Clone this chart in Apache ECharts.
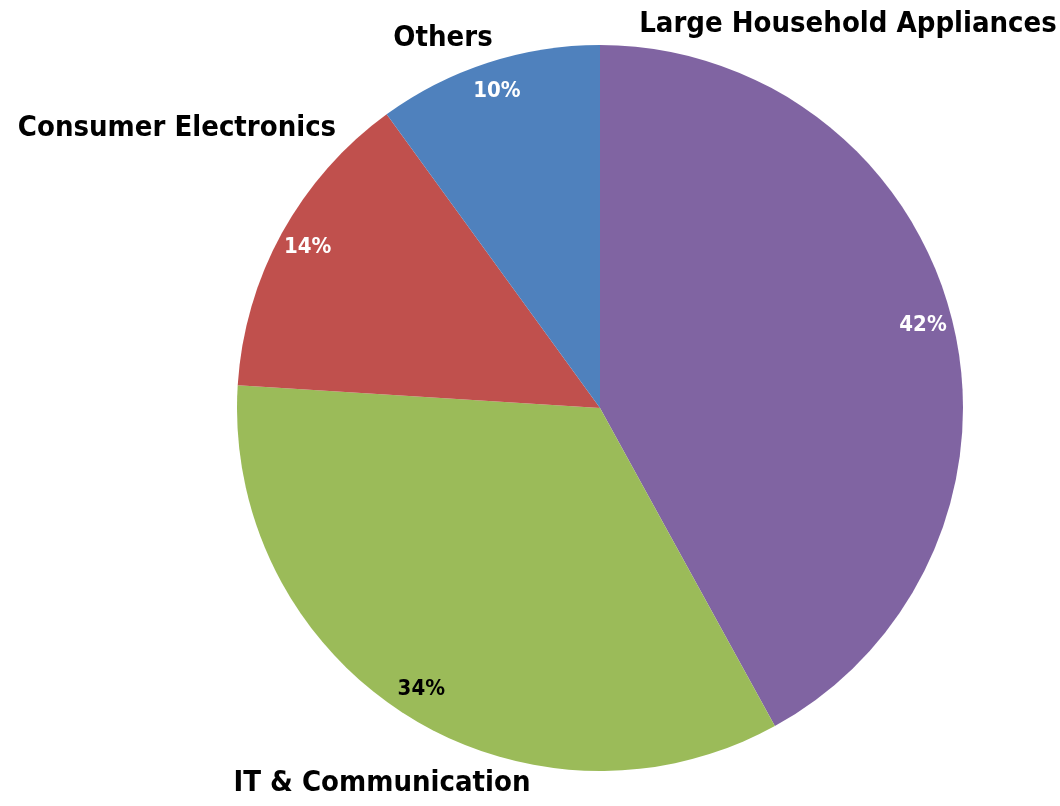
<!DOCTYPE html>
<html>
<head>
<meta charset="utf-8">
<script src="https://cdn.jsdelivr.net/npm/echarts@6/dist/echarts.min.js"></script>
<style>
html,body{margin:0;padding:0;background:#fff;}
#chart{width:1060px;height:806px;}
</style>
</head>
<body>
<div id="chart"></div>
<script>
const categories = ['Large Household Appliances', 'IT & Communication', 'Consumer Electronics', 'Others'];
const values = [42, 34, 14, 10];
const colors = ['#8064A2', '#9BBB59', '#C0504D', '#4F81BD'];
const pctColors = ['#ffffff', '#000000', '#ffffff', '#ffffff'];

// label anchor points (layout only) for the category names
const nameLabelAnchors = [[848, 24], [382, 783], [177, 128], [443, 38]];

const FONT = "'DejaVu Sans Condensed', 'DejaVu Sans', Tahoma, sans-serif";

const chart = echarts.init(document.getElementById('chart'), null, {renderer: 'canvas'});

const pieData = categories.map((c, i) => ({
  name: c,
  value: values[i],
  itemStyle: {color: colors[i]}
}));

const pctData = categories.map((c, i) => ({
  name: c,
  value: values[i],
  itemStyle: {color: 'rgba(0,0,0,0)'},
  label: {color: pctColors[i]}
}));

chart.setOption({
  animation: false,
  backgroundColor: '#ffffff',
  series: [
    {
      type: 'pie',
      center: [600, 408],
      radius: [0, 363],
      startAngle: 90,
      clockwise: true,
      silent: true,
      data: pieData,
      label: {
        show: true,
        position: 'outside',
        formatter: '{b}',
        color: '#000',
        fontFamily: FONT,
        fontWeight: 'bold',
        fontSize: 29,
        overflow: 'none'
      },
      labelLine: {show: false},
      labelLayout: function (p) {
        const a = nameLabelAnchors[p.dataIndex];
        return {x: a[0], y: a[1], align: 'center', verticalAlign: 'middle'};
      }
    },
    {
      type: 'pie',
      center: [600, 408],
      radius: [298, 363],
      startAngle: 90,
      clockwise: true,
      silent: true,
      data: pctData,
      label: {
        show: true,
        position: 'inside',
        formatter: function (p) { return Math.round(p.percent) + '%'; },
        fontFamily: FONT,
        fontWeight: 'bold',
        fontSize: 22
      },
      labelLine: {show: false}
    }
  ]
});
</script>
</body>
</html>
